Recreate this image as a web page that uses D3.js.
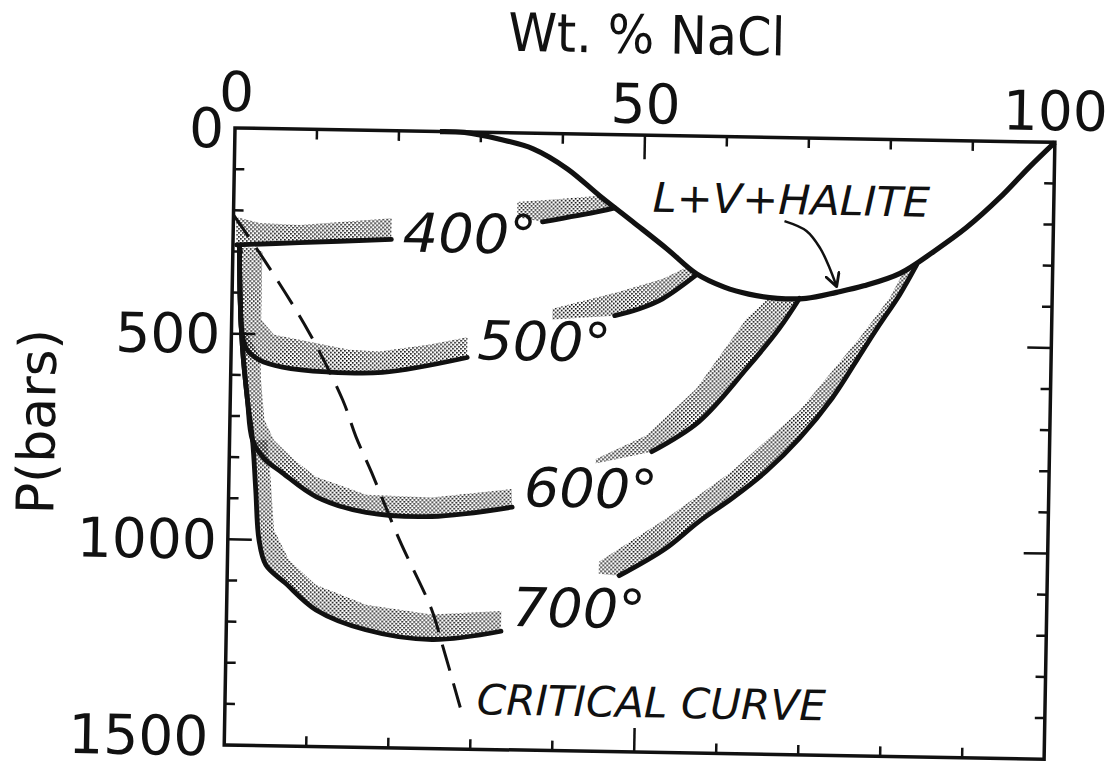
<!DOCTYPE html>
<html>
<head>
<meta charset="utf-8">
<script src="https://cdn.jsdelivr.net/npm/d3@7"></script>
<style>
  body { margin: 0; background: #fff; }
  text { font-family: "DejaVu Sans", sans-serif; fill: #111; }
</style>
</head>
<body>
<svg id="chart" width="1111" height="770"></svg>
<script>
// ─────────────────────────────────────────────
// H2O–NaCl isotherms, P (bars) vs wt.% NaCl.
// All values: [wt% NaCl, P bars].
// ─────────────────────────────────────────────

const xTickLabels = [0, 50, 100];
const yTickLabels = [0, 500, 1000, 1500];

// L + V + halite boundary
const lvhCurve = [[25,0],[28,1],[32.3,16],[36.4,38],[40.6,85],[44.6,149],[48.7,211],[52.9,275],
  [56.6,335],[60,366],[63,382],[66.5,391],[70,390],[73.7,374],[77,357],[81.4,325],[85.5,270],
  [89.4,211],[93.4,137],[97,60],[100,0]];

// critical curve (dashed)
const criticalCurve = [[0,211],[4.1,327],[9.5,495],[13.7,656],[15.4,745],[17.4,832],
  [20.9,993],[25,1162],[26.3,1242],[28.7,1399]];

// isotherms — left (vapour-side) and right (liquid-side) limbs
const iso400Left  = [[0.45,284],[8.1,276],[19.3,264]];
const iso400Right = [[37.7,215],[44.6,187],[46.5,178]];
const iso500Left  = [[0.8,290],[1.0,418],[1.3,500],[2.0,540],[3.5,563],[6.3,579],[11.7,589],[18.5,588],[28.8,548]];
const iso500Right = [[46.7,440],[49.7,422],[52.5,397],[56.6,337]];
const iso600Left  = [[0.8,290],[1.0,418],[1.4,539],[2.1,661],[2.8,758],[4.2,801],[6.5,836],[10.7,893],
  [16.8,929],[24.8,936],[34.6,910]];
const iso600Right = [[51.5,769],[57.2,694],[62.9,563],[66.8,464],[69.2,390]];
const iso700Left  = [[0.8,290],[1.0,418],[1.4,539],[2.1,661],[2.8,758],[3.3,879],[3.8,1000],[4.7,1061],
  [7.1,1104],[10.9,1168],[17,1214],[25.1,1235],[33.5,1212]];
const iso700Right = [[47.8,1072],[53.4,1004],[57.4,937],[61.4,879],[65.5,812],[69.5,730],[73.4,631],
  [77,515],[79,451],[81.4,377],[83.4,304]];

// stippled bands on the two-phase side of each limb (closed outlines)
const band400Left  = [[0.45,284],[8.1,276],[19.3,264],[19.3,213],[8.1,233],[3.2,230],[0.3,216]];
const band400Right = [[34.6,168],[39.7,159],[44.6,149],[46.5,178],[44.6,187],[37.7,215],[34.6,205]];
const band500Left  = [[0.8,290],[1.0,418],[1.3,500],[2.0,540],[3.5,563],[6.3,579],[11.7,589],[18.5,588],
  [28.8,548],[28.8,499],[24.2,518],[18.1,537],[14.4,534],[8.3,512],[5.2,501],[3.6,465],[3.6,300],[2.5,290]];
const band500Right = [[39.1,426],[47.2,382],[52.5,348],[55.5,318],[56.6,337],[52.5,397],[49.7,422],
  [46.7,440],[39.1,452]];
const band600Left  = [[1.1,467],[1.4,539],[2.1,661],[2.8,758],[4.2,801],[6.5,836],[10.7,893],[16.8,929],
  [24.8,936],[34.6,910],[34.5,866],[24.8,890],[16.8,886],[10.6,844],[7.9,804],[5.4,757],[4.2,708],
  [3.7,611],[3.6,560]];
const band600Right = [[44.7,789],[50.8,730],[56.8,614],[62.8,441],[65.5,389],[69.2,390],[66.8,464],
  [62.9,563],[57.2,694],[51.5,769],[44.7,800]];
const band700Left  = [[2.8,758],[3.3,879],[3.8,1000],[4.7,1061],[7.1,1104],[10.9,1168],[17,1214],
  [25.1,1235],[33.5,1212],[33.5,1163],[25,1174],[17,1153],[10.8,1107],[7.5,1048],[5.6,975],
  [5.1,854],[4.6,757]];
const band700Right = [[45.3,1039],[53.4,931],[61.3,814],[69.4,664],[76.6,484],[80.2,385],[81.8,322],
  [83.4,304],[81.4,377],[79,451],[77,515],[73.4,631],[69.5,730],[65.5,812],[61.4,879],[57.4,937],
  [53.4,1004],[47.8,1072],[45.3,1068]];

const isoLabels   = ["400°", "500°", "600°", "700°"];
const isoLabelAt  = [[20.7,293],[30,552],[36,907],[34.8,1199]];
const arrowCurve  = [[67.2,203],[69.9,226],[71.6,267],[72.8,315],[73.7,360]];

// ── layout: the scan is tilted about 1° clockwise ──
const X0 = 235, X1 = 1055, Y0 = 128, Y1 = 745;
const TILT = 1.0;

const svg = d3.select("#chart");
const defs = svg.append("defs");

const pat = defs.append("pattern")
  .attr("id", "stipple").attr("patternUnits", "userSpaceOnUse")
  .attr("width", 4).attr("height", 4);
pat.append("rect").attr("x", 0).attr("y", 0).attr("width", 1.6).attr("height", 1.6).attr("fill", "#000");
pat.append("rect").attr("x", 2).attr("y", 2).attr("width", 1.6).attr("height", 1.6).attr("fill", "#000");

defs.append("marker")
  .attr("id", "arrow").attr("markerUnits", "userSpaceOnUse")
  .attr("viewBox", "0 0 14 14").attr("refX", 12).attr("refY", 7)
  .attr("markerWidth", 16).attr("markerHeight", 16).attr("orient", "auto")
  .append("path")
  .attr("d", "M1,1 L12,7 L1,13")
  .attr("fill", "none").attr("stroke", "#111").attr("stroke-width", 2.5)
  .attr("stroke-linecap", "round").attr("stroke-linejoin", "round");

const x = d3.scaleLinear().domain([0, 100]).range([X0, X1]);
const y = d3.scaleLinear().domain([0, 1500]).range([Y0, Y1]);

const g = svg.append("g").attr("transform", `rotate(${TILT},${X0},${Y0})`);

const smooth = d3.line().x(d => x(d[0])).y(d => y(d[1])).curve(d3.curveCatmullRom.alpha(0.5));
const closed = d3.line().x(d => x(d[0])).y(d => y(d[1])).curve(d3.curveLinearClosed);

// stipple bands first
const bands = [band400Left, band400Right, band500Left, band500Right,
               band600Left, band600Right, band700Left, band700Right];
g.append("g").selectAll("path").data(bands).join("path")
  .attr("d", closed).attr("fill", "url(#stipple)").attr("stroke", "none");

// frame
g.append("rect")
  .attr("x", X0).attr("y", Y0).attr("width", X1 - X0).attr("height", Y1 - Y0)
  .attr("fill", "none").attr("stroke", "#111").attr("stroke-width", 3.5);

// ticks (inward on all four sides)
const xMinor = d3.range(10, 100, 10);
const yMinor = d3.range(100, 1500, 100);
const tickLen = (major) => major ? 24 : 10;
const ticks = g.append("g").attr("stroke", "#111").attr("stroke-width", 2.5);
xMinor.forEach(v => {
  const L = tickLen(v === 50);
  ticks.append("line").attr("x1", x(v)).attr("x2", x(v)).attr("y1", Y0).attr("y2", Y0 + L);
  ticks.append("line").attr("x1", x(v)).attr("x2", x(v)).attr("y1", Y1).attr("y2", Y1 - L);
});
yMinor.forEach(v => {
  const L = tickLen(v % 500 === 0);
  ticks.append("line").attr("x1", X0).attr("x2", X0 + L).attr("y1", y(v)).attr("y2", y(v));
  ticks.append("line").attr("x1", X1).attr("x2", X1 - L).attr("y1", y(v)).attr("y2", y(v));
});

// isotherm lines
const isoLines = [iso400Left, iso400Right, iso500Left, iso500Right,
                  iso600Left, iso600Right, iso700Left, iso700Right];
g.append("g").selectAll("path").data(isoLines).join("path")
  .attr("d", smooth).attr("fill", "none").attr("stroke", "#111")
  .attr("stroke-width", 4.8).attr("stroke-linecap", "round");

// L+V+H boundary
g.append("path").datum(lvhCurve)
  .attr("d", smooth).attr("fill", "none").attr("stroke", "#111").attr("stroke-width", 5.2);

// critical curve
g.append("path").datum(criticalCurve)
  .attr("d", smooth).attr("fill", "none").attr("stroke", "#111")
  .attr("stroke-width", 3).attr("stroke-dasharray", "27,13");

// arrow
g.append("path").datum(arrowCurve)
  .attr("d", smooth).attr("fill", "none").attr("stroke", "#111")
  .attr("stroke-width", 2.5).attr("marker-end", "url(#arrow)");

// labels in the plot
g.append("g").selectAll("text").data(isoLabels).join("text")
  .attr("x", (d, i) => x(isoLabelAt[i][0]))
  .attr("y", (d, i) => y(isoLabelAt[i][1]))
  .attr("font-size", 54).attr("font-style", "oblique")
  .attr("textLength", 134).attr("lengthAdjust", "spacingAndGlyphs")
  .text(d => d);

g.append("text")
  .attr("x", x(51.1)).attr("y", y(186))
  .attr("font-size", 41).attr("font-style", "oblique")
  .attr("textLength", 277).attr("lengthAdjust", "spacingAndGlyphs")
  .text("L+V+HALITE");

g.append("text")
  .attr("x", x(30.7)).attr("y", y(1415))
  .attr("font-size", 42).attr("font-style", "oblique")
  .attr("textLength", 349).attr("lengthAdjust", "spacingAndGlyphs")
  .text("CRITICAL  CURVE");

// axis labels
g.append("g").selectAll("text").data(xTickLabels).join("text")
  .attr("x", d => x(d) + (d === 0 ? 1 : 0))
  .attr("y", d => Y0 - (d === 0 ? 17 : 12))
  .attr("text-anchor", "middle").attr("font-size", 55)
  .text(d => d);

// the 1500 label sits on the page's lower edge; nudge it up to keep it whole
g.append("g").selectAll("text").data(yTickLabels).join("text")
  .attr("x", d => X0 - (d === 1500 ? 16 : 11))
  .attr("y", d => y(d) - (d === 1500 ? 9 : 0))
  .attr("dy", "0.36em")
  .attr("text-anchor", "end").attr("font-size", 55)
  .text(d => d);

g.append("text")
  .attr("x", 645).attr("y", 46)
  .attr("text-anchor", "middle").attr("font-size", 53)
  .attr("textLength", 277).attr("lengthAdjust", "spacingAndGlyphs")
  .text("Wt. % NaCl");

g.append("text")
  .attr("transform", "translate(60,425) rotate(-90)")
  .attr("text-anchor", "middle").attr("font-size", 52)
  .text("P(bars)");
</script>
</body>
</html>
